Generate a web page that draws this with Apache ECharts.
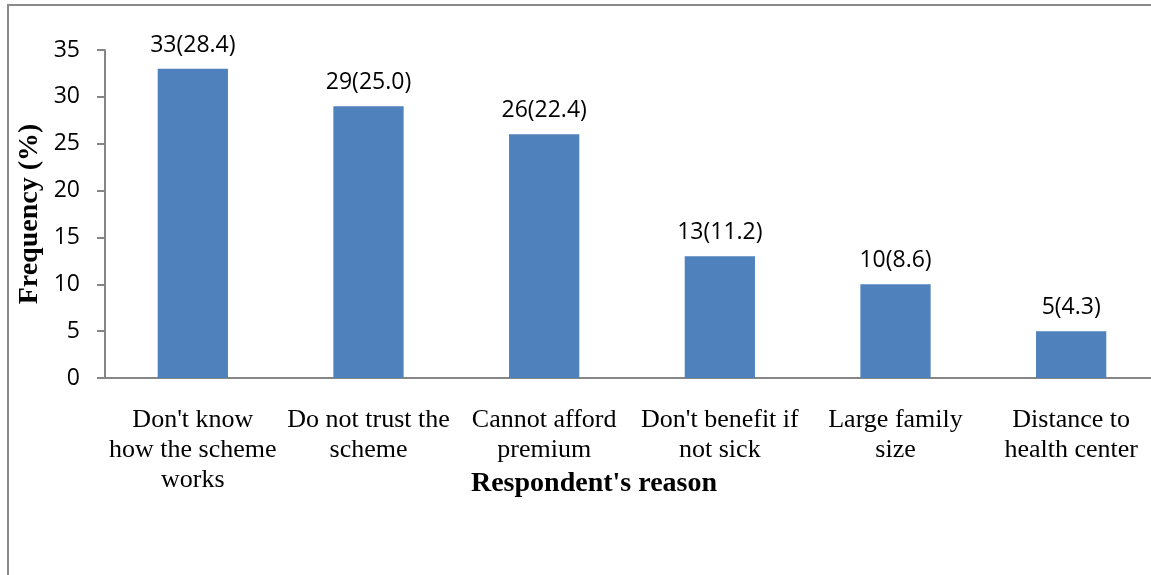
<!DOCTYPE html>
<html>
<head>
<meta charset="utf-8">
<script src="https://cdn.jsdelivr.net/npm/echarts@6/dist/echarts.min.js"></script>
<style>
  html, body { margin: 0; padding: 0; background: #ffffff; }
  #chart { width: 1151px; height: 575px; }
</style>
</head>
<body>
<div id="chart"></div>
<script>
// Reasons given by respondents, with counts and percentages
const reasons = [
  "Don't know\nhow the scheme\nworks",
  "Do not trust the\nscheme",
  "Cannot afford\npremium",
  "Don't benefit if\nnot sick",
  "Large family\nsize",
  "Distance to\nhealth center"
];
const counts = [33, 29, 26, 13, 10, 5];
const percents = [28.4, 25.0, 22.4, 11.2, 8.6, 4.3];
const yTicks = { min: 0, max: 35, step: 5 };

const axisGray = '#868686';

const chart = echarts.init(document.getElementById('chart'), null, { renderer: 'canvas' });

chart.setOption({
  animation: false,
  backgroundColor: '#ffffff',
  graphic: [{
    type: 'rect',
    silent: true,
    shape: { x: 8, y: 5, width: 1300, height: 700 },
    style: { fill: 'none', stroke: '#8a8a8a', lineWidth: 2 }
  }],
  // plot area runs past the right edge of the canvas
  grid: {
    left: 105, width: 1054, top: 50, height: 328,
    containLabel: false,
    outerBoundsMode: 'none'
  },
  xAxis: {
    type: 'category',
    data: reasons,
    name: "Respondent's reason",
    nameLocation: 'middle',
    nameGap: 92,
    nameMoveOverlap: false,
    nameTextStyle: {
      fontFamily: 'Liberation Serif',
      fontWeight: 'bold',
      fontSize: 28,
      lineHeight: 28,
      color: '#000000',
      padding: [0, 76, 0, 0]
    },
    axisLine: { lineStyle: { color: axisGray, width: 2 } },
    axisTick: { show: false },
    axisLabel: {
      interval: 0,
      margin: 27,
      fontFamily: 'Liberation Serif',
      fontSize: 26,
      lineHeight: 30,
      color: '#000000'
    },
    splitLine: { show: false }
  },
  yAxis: {
    type: 'value',
    min: yTicks.min,
    max: yTicks.max,
    interval: yTicks.step,
    name: 'Frequency (%)',
    nameLocation: 'middle',
    nameGap: 61,
    nameMoveOverlap: false,
    nameTextStyle: {
      fontFamily: 'Liberation Serif',
      fontWeight: 'bold',
      fontSize: 28,
      color: '#000000'
    },
    axisLine: { show: true, lineStyle: { color: axisGray, width: 2 } },
    axisTick: { show: true, length: 8, lineStyle: { color: axisGray, width: 2 } },
    axisLabel: {
      margin: 25,
      fontFamily: 'Open Sans',
      fontSize: 23,
      color: '#000000'
    },
    splitLine: { show: false }
  },
  series: [{
    type: 'bar',
    data: counts,
    barCategoryGap: '60%',
    itemStyle: { color: '#4F81BD' },
    label: {
      show: true,
      position: 'top',
      distance: 12,
      fontFamily: 'Open Sans',
      fontSize: 23,
      color: '#000000',
      formatter: p => counts[p.dataIndex] + '(' + percents[p.dataIndex].toFixed(1) + ')'
    }
  }]
});
</script>
</body>
</html>
